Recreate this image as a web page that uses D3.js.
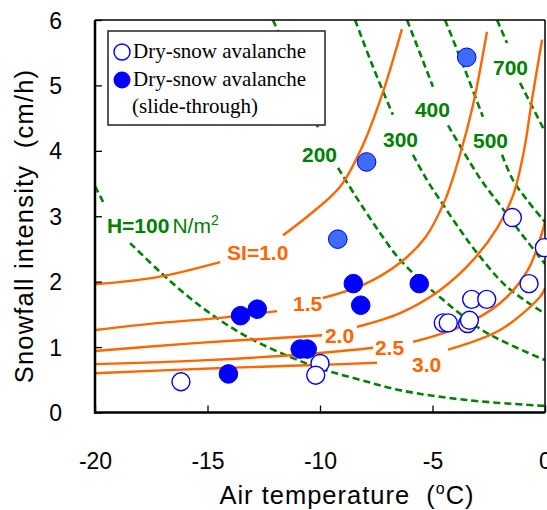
<!DOCTYPE html>
<html><head><meta charset="utf-8">
<script src="https://cdn.jsdelivr.net/npm/d3@7"></script>
<style>
html,body{margin:0;padding:0;background:#fff;}
svg{display:block;}
</style>
</head><body>
<svg id="chart" width="547" height="510"></svg>
<script>
// ---- data ----
const xTicks = [-20, -15, -10, -5, 0];
const yTicks = [0, 1, 2, 3, 4, 5, 6];

// dry-snow avalanche (open circles)
const openPts = [[-16.18,0.47],[-10.0,0.75],[-10.19,0.57],[-1.45,2.98],[-0.03,2.52],[-0.71,1.97],
  [-3.26,1.73],[-2.59,1.73],[-4.52,1.37],[-4.3,1.37],[-3.44,1.36],[-3.36,1.41]];
// dry-snow avalanche, slide-through (filled)
const filledPts = [[-13.53,1.48],[-12.79,1.58],[-14.07,0.59],[-10.88,0.97],[-10.57,0.97],
  [-8.52,1.97],[-8.19,1.64],[-5.59,1.97]];
// lighter filled points
const lightPts = [[-9.21,2.65],[-7.93,3.83],[-3.48,5.43]];

// SI curves (segments split where labels sit)
const si10 = [[[-20,1.96],[-17.24,2.07],[-14.44,2.30]],
  [[-11.64,2.71],[-10.44,3.03],[-9.11,3.45],[-8.09,4.09],[-7.2,4.90],[-6.36,5.86]]];
const si15 = [[[-20,1.26],[-17.11,1.37],[-14.31,1.45],[-11.91,1.55]],
  [[-9.87,1.75],[-8.09,1.95],[-6.44,2.29],[-5.33,2.67],[-4.44,3.25],[-3.78,3.94],[-3.2,4.70],[-2.58,5.82]]];
const si20 = [[[-20,0.94],[-15.56,1.06],[-11.33,1.15],[-9.91,1.18]],
  [[-8.36,1.31],[-6.44,1.52],[-4.67,1.87],[-3.2,2.33],[-2.13,2.82],[-1.42,3.32],[-0.93,4.01],[-0.58,4.78],[-0.13,5.70]]];
const si25 = [[[-20,0.74],[-15.02,0.80],[-10,0.91],[-7.64,0.99]],
  [[-5.87,1.08],[-3.78,1.31],[-2.0,1.67],[-0.76,2.18],[0,2.91]]];
const si30 = [[[-20,0.60],[-14.31,0.68],[-9.87,0.73],[-7.47,0.76]],
  [[-4.31,0.96],[-2.0,1.26],[-0.22,1.77],[0,1.90]]];

// H curves (dashed)
const h100 = [[[-20,3.46],[-19.64,3.22]],
  [[-18.44,2.59],[-17.11,2.15],[-15.78,1.75],[-14.44,1.41],[-12.98,1.11],[-11.33,0.85],[-9.87,0.66],[-8.22,0.50],[-6.44,0.34],[-3.47,0.19],[0,0.10]]];
const h200 = [[[-12.09,6.0],[-11.16,5.27],[-10.09,4.36]],
  [[-9.2,3.74],[-8.44,3.32],[-7.56,2.86],[-6.58,2.39],[-5.56,2.03],[-4.8,1.80],[-2.89,1.28],[-1.69,1.06],[0,0.80]]];
const h300 = [[[-8.44,6.0],[-7.64,5.28],[-6.76,4.55]],
  [[-5.87,3.94],[-5.24,3.55],[-4.67,3.25],[-3.87,2.84],[-3.02,2.44],[-1.69,1.92],[0,1.51]]];
const h400 = [[[-6.13,6.0],[-4.98,4.98]],
  [[-4.31,4.39],[-2.89,3.58],[-2.0,3.17],[-1.11,2.76],[0,2.27]]];
const h500 = [[[-4.44,6.0],[-3.56,5.24],[-2.76,4.52]],
  [[-1.91,3.94],[-1.42,3.55],[-0.8,3.25],[0,2.91]]];
const h700 = [[[-2.13,6.0],[-1.69,5.65]],
  [[-1.11,5.04],[-0.04,4.32]]];

const siLabels = [["SI=1.0",-14.13,2.33],["1.5",-11.2,1.55],["2.0",-9.78,1.06],["2.5",-7.56,0.88],["3.0",-5.91,0.62]];
const hLabels = [["200",-10.8,3.83],["300",-7.2,4.06],["400",-5.78,4.52],["500",-3.2,4.04],["700",-2.31,5.16]];

// ---- layout ----
const L = 95, R = 545, T = 20, B = 412.5;
const svg = d3.select("#chart");
const x = d3.scaleLinear().domain([-20, 0]).range([L, R]);
const y = d3.scaleLinear().domain([0, 6]).range([B, T]);

svg.append("defs").append("clipPath").attr("id","clip")
  .append("rect").attr("x",L).attr("y",T).attr("width",R-L).attr("height",B-T);

const line = d3.line().x(d=>x(d[0])).y(d=>y(d[1])).curve(d3.curveCatmullRom.alpha(0.5));
const curves = svg.append("g").attr("clip-path","url(#clip)");

[h100,h200,h300,h400,h500,h700].forEach(c => c.forEach(seg => {
  curves.append("path").attr("d", line(seg)).attr("fill","none")
    .attr("stroke","#008000").attr("stroke-width",2.6).attr("stroke-dasharray","7,4");
}));
[si10,si15,si20,si25,si30].forEach(c => c.forEach(seg => {
  curves.append("path").attr("d", line(seg)).attr("fill","none")
    .attr("stroke","#FF6600").attr("stroke-width",2.4);
}));

// axes
const font = "'Liberation Sans', Arial, sans-serif";
const xAxis = svg.append("g").attr("transform",`translate(0,${B})`)
  .call(d3.axisBottom(x).tickValues(xTicks).tickSize(-7).tickPadding(40).tickFormat(d3.format("d")));
const yAxis = svg.append("g").attr("transform",`translate(${L},0)`)
  .call(d3.axisLeft(y).tickValues(yTicks).tickSize(-7).tickPadding(33).tickFormat(d3.format("d")));
[xAxis,yAxis].forEach(a => {
  a.select(".domain").remove();
  a.selectAll(".tick line").attr("stroke","#000").attr("stroke-width",1.3);
  a.selectAll(".tick text").attr("font-family",font).attr("font-size",23).attr("fill","#000");
});
xAxis.selectAll(".tick text").text(d => String(d));
yAxis.selectAll(".tick text").attr("dy","0.35em");

// frame
svg.append("line").attr("x1",L).attr("x2",R).attr("y1",T).attr("y2",T).attr("stroke","#000").attr("stroke-width",1.5);
svg.append("line").attr("x1",R).attr("x2",R).attr("y1",T).attr("y2",B).attr("stroke","#000").attr("stroke-width",1.5);
svg.append("line").attr("x1",L).attr("x2",L).attr("y1",T).attr("y2",B+1).attr("stroke","#000").attr("stroke-width",2.5);
svg.append("line").attr("x1",L-1).attr("x2",R).attr("y1",B).attr("y2",B).attr("stroke","#000").attr("stroke-width",2.5);

// labels on curves
const lab = svg.append("g").attr("font-family",font).attr("font-weight","bold").attr("font-size",21);
siLabels.forEach(([t,a,b]) => lab.append("text").attr("x",x(a)).attr("y",y(b)).attr("fill","#FF6600").text(t));
hLabels.forEach(([t,a,b]) => lab.append("text").attr("x",x(a)).attr("y",y(b)).attr("fill","#008000").text(t));
const hl = lab.append("text").attr("x",x(-19.47)).attr("y",y(2.74)).attr("fill","#008000");
hl.append("tspan").text("H=100");
hl.append("tspan").attr("font-weight","normal").attr("dx",3).text("N/m");
hl.append("tspan").attr("font-weight","normal").attr("font-size",14).attr("dy",-8).text("2");

// points
const pts = svg.append("g");
pts.selectAll("circle.o").data(openPts).join("circle").attr("class","o")
  .attr("cx",d=>x(d[0])).attr("cy",d=>y(d[1])).attr("r",9)
  .attr("fill","#fff").attr("stroke","#0000FF").attr("stroke-width",1.4);
pts.selectAll("circle.f").data(filledPts).join("circle").attr("class","f")
  .attr("cx",d=>x(d[0])).attr("cy",d=>y(d[1])).attr("r",9.3)
  .attr("fill","#0000FF").attr("stroke","#0000FF").attr("stroke-width",1);
pts.selectAll("circle.l").data(lightPts).join("circle").attr("class","l")
  .attr("cx",d=>x(d[0])).attr("cy",d=>y(d[1])).attr("r",9.3)
  .attr("fill","#3c6cf8").attr("stroke","#0000FF").attr("stroke-width",1);

// legend
const lg = svg.append("g");
lg.append("rect").attr("x",108).attr("y",31).attr("width",217).attr("height",94)
  .attr("fill","#fff").attr("stroke","#222").attr("stroke-width",1.5);
lg.append("circle").attr("cx",122).attr("cy",52).attr("r",8).attr("fill","#fff").attr("stroke","#0000FF").attr("stroke-width",1.4);
lg.append("circle").attr("cx",122).attr("cy",80).attr("r",8.5).attr("fill","#0000FF");
const lf = "'Liberation Serif', 'Times New Roman', serif";
lg.append("text").attr("x",133).attr("y",58).attr("font-family",lf).attr("font-size",21).text("Dry-snow avalanche");
lg.append("text").attr("x",133).attr("y",86).attr("font-family",lf).attr("font-size",21).text("Dry-snow avalanche");
lg.append("text").attr("x",132).attr("y",113).attr("font-family",lf).attr("font-size",21).text("(slide-through)");

// axis titles
const xt = svg.append("text").attr("x",347).attr("y",504).attr("text-anchor","middle")
  .attr("font-family",font).attr("font-size",25.5).attr("letter-spacing",1).attr("xml:space","preserve");
xt.append("tspan").text("Air temperature\u00a0\u00a0(");
xt.append("tspan").attr("font-size",16).attr("dy",-10).text("o");
xt.append("tspan").attr("dy",10).text("C)");
svg.append("text").attr("transform","translate(33,226) rotate(-90)").attr("text-anchor","middle")
  .attr("font-family",font).attr("font-size",25.5).attr("letter-spacing",1.2)
  .text("Snowfall intensity\u00a0\u00a0(cm/h)");
</script>
</body></html>
